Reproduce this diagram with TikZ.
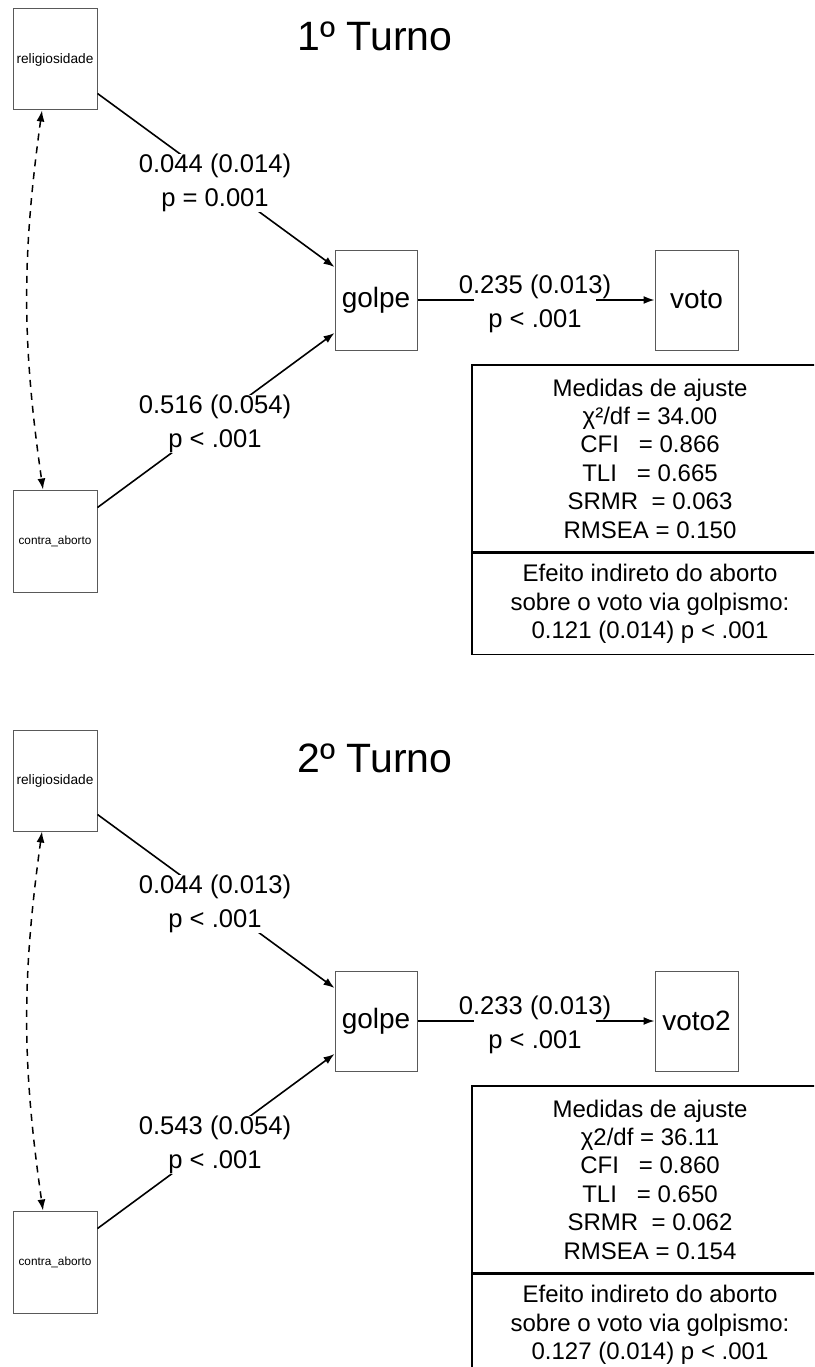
\documentclass[tikz,border=0pt]{standalone}
\usepackage{fontspec}
\setmainfont{Liberation Sans}
\usetikzlibrary{arrows.meta}
\begin{document}
\begin{tikzpicture}[x=1pt,y=-1pt,
  var/.style={draw=black!65, line width=1pt, fill=white, inner sep=0pt, font=\fontsize{28}{30}\selectfont},
  varsmall/.style={var, minimum width=84pt, font=\fontsize{13.7}{15}\selectfont},
  vartiny/.style={var, minimum width=84pt, font=\fontsize{11.8}{13}\selectfont},
  edge/.style={line width=1.6pt, -{Latex[length=11pt,width=8pt]}},
  covedge/.style={line width=1.5pt, dash pattern=on 7pt off 6pt, {Latex[length=11pt,width=8pt]}-{Latex[length=11pt,width=8pt]}},
  elabel/.style={fill=white, inner xsep=-15pt, inner ysep=0pt, align=center, font=\fontsize{25.6}{33.5}\selectfont},
  fitbox/.style={draw=black, line width=1.5pt, minimum width=356pt, align=center, inner sep=0pt, font=\fontsize{24}{28.4}\selectfont},
  titletext/.style={anchor=base, font=\fontsize{41}{41}\selectfont}]
\useasboundingbox (0,0) rectangle (814,1367);
\fill[white] (0,0) rectangle (814,1367);
\clip (0,0) rectangle (814,1367);

% ---------- Panel 1 ----------
\node[titletext] (t1) at (375,51) {1º Turno};
\node[varsmall, minimum height=101pt] (r1) at (55,59.5) {religiosidade};
\node[vartiny, minimum height=102pt] (c1) at (55,541) {contra\_aborto};
\node[var, minimum width=82pt, minimum height=100pt] (g1) at (376,300) {golpe};
\node[var, minimum width=83pt, minimum height=100pt] (v1) at (696.5,300) {voto};

\draw[edge] ([yshift=17pt]r1.south east) -- ([yshift=33pt]g1.west);
\draw[edge] ([yshift=-18pt]c1.north east) -- ([yshift=-33pt]g1.west);
\draw[edge] (g1.east) -- (v1.west);
\draw[covedge] ([xshift=-13pt]r1.south) to[bend right=8] ([xshift=-12pt]c1.north);

\node[elabel] (l11) at (215,183) {0.044 (0.014)\\p = 0.001};
\node[elabel] (l12) at (215,424) {0.516 (0.054)\\p < .001};
\node[elabel] (l13) at (535,304) {0.235 (0.013)\\p < .001};

\node[fitbox, minimum height=187pt] (f1) at (650,458.5) {Medidas de ajuste\\χ²/df = 34.00\\CFI\ \ \ = 0.866\\TLI\ \ \ = 0.665\\SRMR\ \ = 0.063\\RMSEA = 0.150};
\node[fitbox, minimum height=101pt, anchor=north] (e1) at (f1.south) {Efeito indireto do aborto\\sobre o voto via golpismo:\\0.121 (0.014) p < .001};

% ---------- Panel 2 ----------
\node[titletext] (t2) at (375,772) {2º Turno};
\node[varsmall, minimum height=101pt] (r2) at (55,780.5) {religiosidade};
\node[vartiny, minimum height=102pt] (c2) at (55,1262) {contra\_aborto};
\node[var, minimum width=82pt, minimum height=100pt] (g2) at (376,1021) {golpe};
\node[var, minimum width=83pt, minimum height=100pt] (v2) at (696.5,1021) {voto2};

\draw[edge] ([yshift=17pt]r2.south east) -- ([yshift=33pt]g2.west);
\draw[edge] ([yshift=-18pt]c2.north east) -- ([yshift=-33pt]g2.west);
\draw[edge] (g2.east) -- (v2.west);
\draw[covedge] ([xshift=-13pt]r2.south) to[bend right=8] ([xshift=-12pt]c2.north);

\node[elabel] (l21) at (215,904) {0.044 (0.013)\\p < .001};
\node[elabel] (l22) at (215,1145) {0.543 (0.054)\\p < .001};
\node[elabel] (l23) at (535,1025) {0.233 (0.013)\\p < .001};

\node[fitbox, minimum height=187pt] (f2) at (650,1179.5) {Medidas de ajuste\\χ2/df = 36.11\\CFI\ \ \ = 0.860\\TLI\ \ \ = 0.650\\SRMR\ \ = 0.062\\RMSEA = 0.154};
\node[fitbox, minimum height=101pt, anchor=north] (e2) at (f2.south) {Efeito indireto do aborto\\sobre o voto via golpismo:\\0.127 (0.014) p < .001};
\end{tikzpicture}
\end{document}
